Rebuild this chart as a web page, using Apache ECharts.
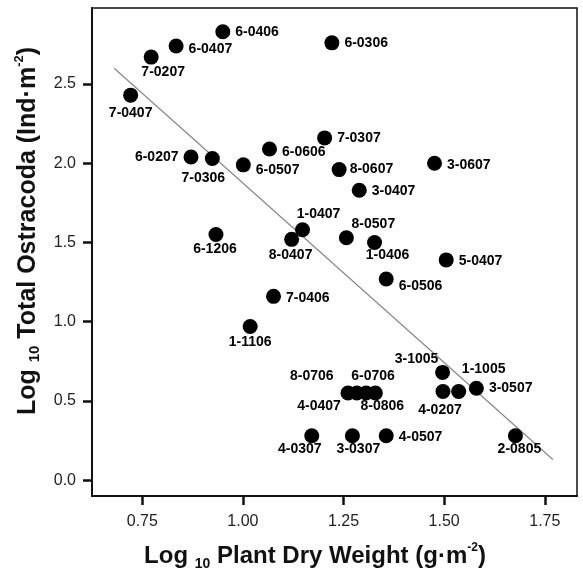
<!DOCTYPE html>
<html>
<head>
<meta charset="utf-8">
<script src="https://cdn.jsdelivr.net/npm/echarts@6/dist/echarts.min.js"></script>
<style>
  html, body { margin: 0; padding: 0; background: #fff; }
  #chart { width: 583px; height: 576px; }
</style>
</head>
<body>
<div id="chart"></div>
<script>
// site codes, log10 plant dry weight (x), log10 total ostracoda (y)
var sites = ['6-0406', '6-0407', '7-0207', '7-0407', '6-0306', '6-0207', '7-0306', '6-0507',
  '6-0606', '7-0307', '8-0607', '3-0607', '3-0407', '6-1206', '1-0407', '8-0407', '8-0507',
  '1-0406', '5-0407', '6-0506', '7-0406', '1-1106', '3-1005', '1-1005', '3-0507', '4-0207',
  '4-0407', '8-0706', '6-0706', '8-0806', '4-0307', '3-0307', '4-0507', '2-0805'];
var plantWeight = [0.950, 0.834, 0.772, 0.721, 1.221, 0.871, 0.924, 1.001,
  1.066, 1.203, 1.239, 1.476, 1.289, 0.933, 1.148, 1.121, 1.257,
  1.327, 1.505, 1.356, 1.076, 1.018, 1.496, 1.536, 1.580, 1.497,
  1.261, 1.283, 1.306, 1.329, 1.171, 1.272, 1.356, 1.677];
var ostracoda = [2.83, 2.74, 2.67, 2.43, 2.76, 2.04, 2.03, 1.99,
  2.09, 2.16, 1.96, 2.00, 1.83, 1.55, 1.58, 1.52, 1.53,
  1.50, 1.39, 1.27, 1.16, 0.97, 0.68, 0.56, 0.58, 0.56,
  0.55, 0.55, 0.55, 0.55, 0.28, 0.28, 0.28, 0.28];

// regression line ends
var fitX = [0.68, 1.77];
var fitY = [2.60, 0.13];

var xTicks = [0.75, 1.00, 1.25, 1.50, 1.75];
var yTicks = [0.0, 0.5, 1.0, 1.5, 2.0, 2.5];

// where each site label sits: [position, dx, dy]
var labelPlace = {
  '6-0406': ['right', 0, 0], '6-0407': ['right', 0, 3], '7-0207': ['bottom', 12, -4],
  '7-0407': ['bottom', 0, -2], '6-0306': ['right', 0, 0], '6-0207': ['left', 0, 0],
  '7-0306': ['bottom', -9, 0], '6-0507': ['right', 0, 5], '6-0606': ['right', 0, 3],
  '7-0307': ['right', 0, 0], '8-0607': ['right', -2, 0], '3-0607': ['right', 0, 2],
  '3-0407': ['right', 0, 1], '6-1206': ['bottom', -1, -5], '1-0407': ['top', 16, 4],
  '8-0407': ['bottom', -1, -4], '8-0507': ['top', 27, 6], '1-0406': ['bottom', 13, -7],
  '5-0407': ['right', 0, 1], '6-0506': ['right', 0, 7], '7-0406': ['right', 0, 2],
  '1-1106': ['bottom', 0, -4], '3-1005': ['top', -26, 6], '1-1005': ['top', 25, -3],
  '3-0507': ['right', 0, 0], '4-0207': ['bottom', -3, -1], '4-0407': ['bottom', -29, -6],
  '8-0706': ['top', -45, 3], '6-0706': ['top', 7, 3], '8-0806': ['bottom', 7, -6],
  '4-0307': ['bottom', -12, -6], '3-0307': ['bottom', 6, -6], '4-0507': ['right', 0, 1],
  '2-0805': ['bottom', 4, -6]
};

var font = 'Liberation Sans, Arial, sans-serif';

var points = sites.map(function (s, i) {
  var p = labelPlace[s];
  return {
    name: s,
    value: [plantWeight[i], ostracoda[i]],
    label: { position: p[0], offset: [p[1], p[2]] }
  };
});

function titleRich(size) {
  return {
    b: { fontFamily: font, fontSize: size, fontWeight: 'bold', color: '#111', lineHeight: size + 5 },
    s: { fontFamily: font, fontSize: Math.round(size * 0.6), fontWeight: 'bold', color: '#111', lineHeight: 14, verticalAlign: 'bottom' },
    p: { fontFamily: font, fontSize: Math.round(size * 0.52), fontWeight: 'bold', color: '#111', lineHeight: 12, verticalAlign: 'top' }
  };
}

var chart = echarts.init(document.getElementById('chart'));
chart.setOption({
  animation: false,
  grid: {
    left: 92, top: 8, right: 6, bottom: 79,
    show: true, borderColor: '#111', borderWidth: 1.5
  },
  xAxis: {
    type: 'value',
    min: 0.625,
    max: 1.83,
    splitLine: { show: false },
    axisLine: { show: true, onZero: false, lineStyle: { color: '#111', width: 2 } },
    axisTick: { show: true, length: 9, customValues: xTicks, lineStyle: { color: '#111', width: 2.5 } },
    axisLabel: {
      customValues: xTicks, margin: 18, fontFamily: font, fontSize: 16, color: '#222',
      formatter: function (v) { return v.toFixed(2); }
    },
    name: '{b|Log }{s|10}{b| Plant Dry Weight (g·m}{p|-2}{b|)}',
    nameLocation: 'middle',
    nameGap: 46,
    nameTextStyle: { rich: titleRich(24), padding: [0, 39, 0, 0] }
  },
  yAxis: {
    type: 'value',
    min: -0.1,
    max: 2.98,
    splitLine: { show: false },
    axisLine: { show: true, onZero: false, lineStyle: { color: '#111', width: 2 } },
    axisTick: { show: true, length: 9, customValues: yTicks, lineStyle: { color: '#111', width: 2.5 } },
    axisLabel: {
      customValues: yTicks, margin: 16, fontFamily: font, fontSize: 16, color: '#222',
      formatter: function (v) { return v.toFixed(1); }
    },
    name: '{b|Log }{s|10}{b| Total Ostracoda (Ind·m}{p|-2}{b|)}',
    nameLocation: 'middle',
    nameGap: 49,
    nameTextStyle: { rich: titleRich(25), padding: [0, 0, 0, 42] }
  },
  series: [
    {
      type: 'line',
      data: [[fitX[0], fitY[0]], [fitX[1], fitY[1]]],
      symbol: 'none',
      silent: true,
      lineStyle: { color: '#888', width: 1.2 },
      z: 1
    },
    {
      type: 'scatter',
      data: points,
      symbol: 'circle',
      symbolSize: 15,
      itemStyle: { color: '#000', opacity: 1 },
      label: {
        show: true,
        formatter: '{b}',
        distance: 5,
        fontFamily: font,
        fontSize: 14,
        fontWeight: 'bold',
        color: '#000'
      },
      z: 2
    }
  ]
});
</script>
</body>
</html>
